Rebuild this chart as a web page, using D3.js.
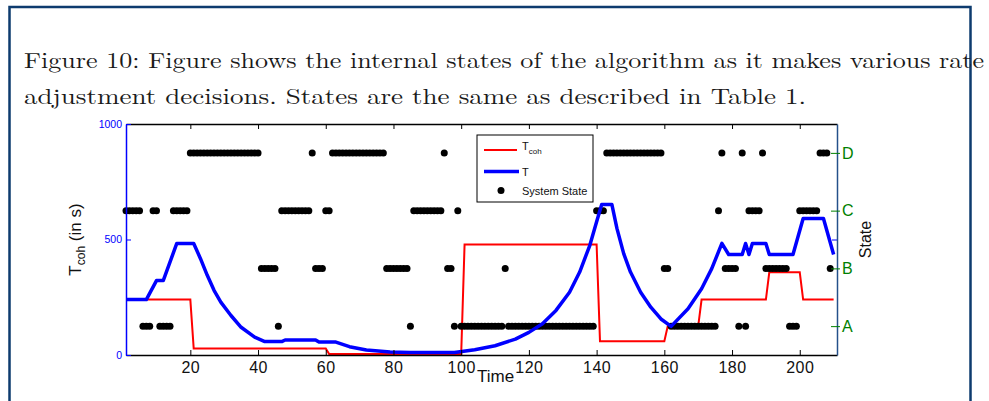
<!DOCTYPE html>
<html>
<head>
<meta charset="utf-8">
<script src="https://cdn.jsdelivr.net/npm/d3@7"></script>
<style>
  body { margin: 0; background: #fff; }
  .sans { font-family: "Liberation Sans", Arial, Helvetica, sans-serif; }
  .caption { font-family: "Latin Modern Roman", "CMU Serif", "Liberation Serif", serif; fill: #1a1a1a; }
</style>
</head>
<body>
<div id="chart"></div>
<script>
// caption lines
var captionLines = [
  "Figure 10: Figure shows the internal states of the algorithm as it makes various rate",
  "adjustment decisions. States are the same as described in Table 1."
];

// x axis ticks
var timeTicks = [20, 40, 60, 80, 100, 120, 140, 160, 180, 200];
// left axis ticks
var tcohTicks = [0, 500, 1000];
// right axis (state) ticks
var stateNames = ["A", "B", "C", "D"];

// T_coh (red step line)
var tcohTimes  = [1, 20, 21, 60, 61, 100, 101, 140, 141, 160, 161, 170, 171, 190, 191, 200, 201, 210];
var tcohValues = [240, 240, 28, 28, 4, 4, 478, 478, 60, 60, 124, 124, 240, 240, 358, 358, 240, 240];

// T (blue line)
var tTimes  = [1, 7, 10, 12, 16, 21, 23, 25, 27, 29, 32, 35, 39, 42,
  47, 48, 57, 58, 63, 67, 72, 79, 85, 98,
  104, 110, 116, 120, 124, 128, 132, 135, 138, 140, 141.5, 144.5,
  146, 148, 150, 153, 156, 159, 162, 167, 171, 174, 177,
  179, 183, 184, 185, 186, 190, 191, 198, 201, 207, 210];
var tValues = [240, 240, 322, 322, 483, 483, 417, 345, 280, 229, 171, 120, 77, 58,
  58, 65, 65, 56, 56, 36, 22, 13, 11, 11,
  23, 40, 69, 98, 135, 193, 272, 359, 475, 577, 652, 652,
  548, 439, 359, 272, 207, 156, 124, 200, 287, 374, 483,
  435, 435, 483, 435, 483, 483, 435, 435, 591, 591, 435];

// system state for each time step, t = 1 .. 209 (ten steps per chunk)
var stateChunks = [
  "CCCCCAAACC", "AAAACCCCCD", "DDDDDDDDDD", "DDDDDDDDDD", "BBBBBACCCC",
  "CCCCCDBBBC", "CDDDDDDDDD", "DDDDDDDBBB", "BBBBACCCCC", "CCCCDBBACA",
  "AAAAAAAAAA", "AABAAAAAAA", "AAAAAAAAAA", "AAAAAAAAAC", "CCDDDDDDDD",
  "DDDDDDDDDB", "BAAAAAAAAA", "AAAAACDBBB", "BADACCCCDB", "BBBBBBAAAC",
  "CCCCCDDDB"
];

var stateData = stateChunks.join("").split("").map(function(s, i) {
  return { time: i + 1, state: stateNames.indexOf(s) + 1 };
});

var svgWidth = 989;
var svgHeight = 401;

// plot box in pixels
var plot = { left: 126, right: 837, top: 124, bottom: 355 };

var svg = d3.select("#chart")
  .append("svg")
  .attr("width", svgWidth)
  .attr("height", svgHeight)
  .style("display", "block");

svg.append("rect")
  .attr("width", svgWidth)
  .attr("height", svgHeight)
  .attr("fill", "#fff");

// page frame
svg.append("rect")
  .attr("x", 9.5)
  .attr("y", 7)
  .attr("width", 961)
  .attr("height", 420)
  .attr("fill", "none")
  .attr("stroke", "#0d3b6e")
  .attr("stroke-width", 2.5);

// caption
var captionWidths = [960, 782];
svg.selectAll(".caption")
  .data(captionLines)
  .enter()
  .append("text")
  .attr("class", "caption")
  .attr("x", 24)
  .attr("y", (d, i) => 68 + i * 36)
  .attr("font-size", "21.5px")
  .attr("textLength", (d, i) => captionWidths[i])
  .attr("lengthAdjust", "spacingAndGlyphs")
  .text(d => d);

// scales
var xScale = d3.scaleLinear().domain([1, 211]).range([plot.left, plot.right]);
var yLeft = d3.scaleLinear().domain([0, 1000]).range([plot.bottom, plot.top]);
var yRight = d3.scaleLinear().domain([0.5, 4.5]).range([plot.bottom, plot.top]);

var chart = svg.append("g").attr("class", "sans");

// red T_coh line
var tcohLine = d3.line()
  .x((d, i) => xScale(tcohTimes[i]))
  .y(d => yLeft(d));

chart.append("path")
  .datum(tcohValues)
  .attr("d", tcohLine)
  .attr("fill", "none")
  .attr("stroke", "#ff0000")
  .attr("stroke-width", 2);

// state dots
chart.append("g")
  .selectAll("circle")
  .data(stateData)
  .enter()
  .append("circle")
  .attr("cx", d => xScale(d.time))
  .attr("cy", d => yRight(d.state))
  .attr("r", 3.5)
  .attr("fill", "#000");

// blue T line
var tLine = d3.line()
  .x((d, i) => xScale(tTimes[i]))
  .y(d => yLeft(d));

chart.append("path")
  .datum(tValues)
  .attr("d", tLine)
  .attr("fill", "none")
  .attr("stroke", "#0000ff")
  .attr("stroke-width", 3.5)
  .attr("stroke-linejoin", "round");

// bottom axis, ticks inside
var bottomAxis = d3.axisBottom(xScale).tickValues(timeTicks).tickSizeInner(-5).tickSizeOuter(0).tickPadding(5);
var xAxis = chart.append("g")
  .attr("transform", `translate(0, ${plot.bottom})`)
  .call(bottomAxis);
xAxis.select(".domain").attr("stroke", "#000").attr("stroke-width", 1.5);
xAxis.selectAll(".tick line").attr("stroke", "#000");
xAxis.selectAll(".tick text")
  .attr("font-size", "16px")
  .attr("fill", "#111")
  .attr("letter-spacing", "0.5px")
  .attr("dy", "0.8em");

// top axis, ticks only
var topAxis = d3.axisTop(xScale).tickValues(timeTicks).tickSizeInner(-5).tickSizeOuter(0).tickFormat("");
var xTop = chart.append("g")
  .attr("transform", `translate(0, ${plot.top})`)
  .call(topAxis);
xTop.select(".domain").attr("stroke", "#000").attr("stroke-width", 1.5);
xTop.selectAll(".tick line").attr("stroke", "#000");

// left axis (blue)
var leftAxis = d3.axisLeft(yLeft).tickValues(tcohTicks).tickFormat(d3.format("d")).tickSizeInner(-5).tickSizeOuter(0).tickPadding(4);
var yAxisL = chart.append("g")
  .attr("transform", `translate(${plot.left}, 0)`)
  .call(leftAxis);
yAxisL.select(".domain").attr("stroke", "#0000ff").attr("stroke-width", 1.5);
yAxisL.selectAll(".tick line").attr("stroke", "#0000ff");
yAxisL.selectAll(".tick text").attr("font-size", "10.5px").attr("fill", "#0000ff");

// mirrored blue tick on the right side
var rightMirror = d3.axisRight(yLeft).tickValues([500]).tickSizeInner(-5).tickSizeOuter(0).tickFormat("");
var yMirror = chart.append("g")
  .attr("transform", `translate(${plot.right}, 0)`)
  .call(rightMirror);
yMirror.select(".domain").remove();
yMirror.selectAll(".tick line").attr("stroke", "#0000ff");

// right axis (state)
var rightAxis = d3.axisRight(yRight)
  .tickValues([1, 2, 3, 4])
  .tickFormat(d => stateNames[d - 1])
  .tickSizeInner(3)
  .tickSizeOuter(0)
  .tickPadding(2);
var yAxisR = chart.append("g")
  .attr("transform", `translate(${plot.right}, 0)`)
  .call(rightAxis);
yAxisR.select(".domain").attr("stroke", "#24508a").attr("stroke-width", 1.5);
yAxisR.selectAll(".tick line").attr("stroke", "#008000").attr("x1", -6);
yAxisR.selectAll(".tick text").attr("font-size", "16px").attr("fill", "#008000");

// axis labels
var yLabel = chart.append("text")
  .attr("transform", `translate(81, ${(plot.top + plot.bottom) / 2}) rotate(-90)`)
  .attr("text-anchor", "middle")
  .attr("font-size", "17px")
  .attr("fill", "#111");
yLabel.append("tspan").text("T");
yLabel.append("tspan").attr("font-size", "12px").attr("dy", 4).text("coh");
yLabel.append("tspan").attr("dy", -4).text(" (in s)");

chart.append("text")
  .attr("transform", `translate(871, ${(plot.top + plot.bottom) / 2}) rotate(-90)`)
  .attr("text-anchor", "middle")
  .attr("font-size", "16px")
  .attr("fill", "#111")
  .text("State");

chart.append("text")
  .attr("x", 477)
  .attr("y", 382)
  .attr("font-size", "17px")
  .attr("fill", "#111")
  .text("Time");

// legend
var legend = chart.append("g");
legend.append("rect")
  .attr("x", 477)
  .attr("y", 135)
  .attr("width", 116)
  .attr("height", 67)
  .attr("fill", "#fff")
  .attr("stroke", "#000")
  .attr("stroke-width", 1);

legend.append("line")
  .attr("x1", 484).attr("x2", 517)
  .attr("y1", 150).attr("y2", 150)
  .attr("stroke", "#ff0000").attr("stroke-width", 2);
var legT = legend.append("text")
  .attr("x", 522).attr("y", 150)
  .attr("font-size", "11px").attr("fill", "#111");
legT.append("tspan").text("T");
legT.append("tspan").attr("font-size", "8px").attr("dy", 4).text("coh");

legend.append("line")
  .attr("x1", 484).attr("x2", 519)
  .attr("y1", 171.5).attr("y2", 171.5)
  .attr("stroke", "#0000ff").attr("stroke-width", 3.5);
legend.append("text")
  .attr("x", 522).attr("y", 175.5)
  .attr("font-size", "11px").attr("fill", "#111")
  .text("T");

legend.append("circle")
  .attr("cx", 501).attr("cy", 190.5)
  .attr("r", 3.5).attr("fill", "#000");
legend.append("text")
  .attr("x", 522).attr("y", 194.5)
  .attr("font-size", "11px").attr("fill", "#111")
  .text("System State");
</script>
</body>
</html>
